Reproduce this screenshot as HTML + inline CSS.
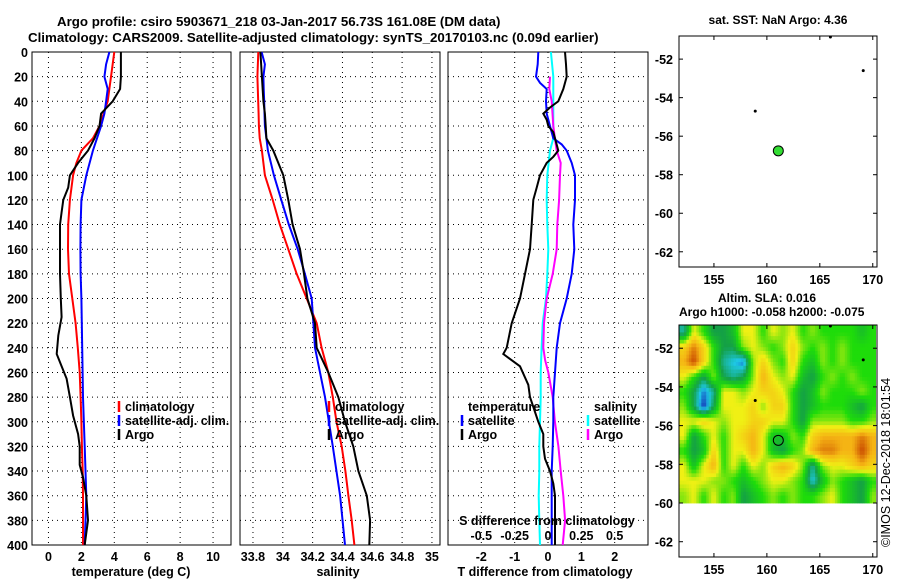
<!DOCTYPE html>
<html><head><meta charset="utf-8"><style>
html,body{margin:0;padding:0;background:#fff;}
svg{display:block;font-family:"Liberation Sans",sans-serif;font-weight:bold;}
</style></head><body>
<svg id="s" width="900" height="580" viewBox="0 0 900 580" xmlns="http://www.w3.org/2000/svg">
<defs>
<clipPath id="hmclip"><rect x="679" y="325" width="197" height="179"/></clipPath>
</defs>
<text x="57" y="26" font-size="13.3">Argo profile: csiro 5903671_218 03-Jan-2017 56.73S 161.08E (DM data)</text>
<text x="28" y="42" font-size="13.3">Climatology: CARS2009. Satellite-adjusted climatology: synTS_20170103.nc (0.09d earlier)</text>
<text x="778" y="24" font-size="12" text-anchor="middle">sat. SST: NaN Argo: 4.36</text>
<text x="767" y="302" font-size="12" text-anchor="middle">Altim. SLA: 0.016</text>
<text x="679" y="316" font-size="12">Argo h1000: -0.058 h2000: -0.075</text>
<text transform="translate(890,547) rotate(-90)" font-size="12.5" font-weight="normal">©IMOS 12-Dec-2018 18:01:54</text>
<g id="plots"></g>
</svg>
<script>
// ---- data ----
const tDepth = [0,10,20,30,40,50,60,70,80,90,100,110,120,130,140,160,180,200,215,230,245,255,265,280,295,310,320,335,345,360,380,400];
const tArgo  = [4.4,4.4,4.4,4.35,3.9,3.2,3.1,2.8,2.4,1.8,1.3,1.2,0.9,0.8,0.7,0.7,0.7,0.75,0.8,0.6,0.5,0.8,1.1,1.3,1.5,1.8,1.9,1.9,2.1,2.3,2.4,2.2];
const cDepth = [0,20,40,60,70,80,90,100,120,140,160,180,200,220,240,260,280,300,320,340,360,380,400];
const tClim  = [4.0,3.8,3.6,3.1,2.7,2.0,1.7,1.5,1.3,1.2,1.19,1.25,1.45,1.65,1.78,1.9,1.95,2.0,2.03,2.08,2.1,2.1,2.1];
const sDepth = [0,10,20,30,40,50,60,80,100,120,140,160,180,200,240,280,320,360,400];
const tSat   = [3.7,3.5,3.4,3.6,3.5,3.4,3.2,2.7,2.3,2.0,1.95,1.94,1.95,2.0,2.05,2.1,2.2,2.3,2.2];
const pDepth = [0,20,40,50,60,70,80,100,120,140,160,180,200,220,240,260,280,300,320,340,360,380,400];
const salArgo = [33.85,33.86,33.87,33.88,33.885,33.89,33.936,34.003,34.037,34.066,34.115,34.142,34.165,34.216,34.227,34.305,34.372,34.417,34.473,34.507,34.563,34.585,34.58];
const salClim = [33.836,33.83,33.835,33.838,33.84,33.845,33.86,33.88,33.932,33.98,34.037,34.093,34.16,34.227,34.26,34.305,34.335,34.36,34.395,34.42,34.44,34.462,34.48];
const salSat  = [33.858,33.88,33.87,33.872,33.875,33.877,33.88,33.9,33.94,33.99,34.04,34.1,34.148,34.194,34.216,34.283,34.335,34.384,34.417];
const dtDepth = [0,10,20,25,30,40,50,60,70,75,80,90,100,120,140,160,180,200,220,240,260,280,300,320,340,360,400];
const dtSat   = [-0.29,-0.31,-0.36,-0.24,-0.04,-0.06,-0.04,0.06,0.16,0.41,0.56,0.71,0.81,0.81,0.76,0.79,0.71,0.56,0.36,0.26,0.21,0.16,0.16,0.14,0.11,0.11,0.11];
const daDepth = [0,10,20,30,40,45,50,55,60,65,70,80,85,90,100,110,120,140,160,180,200,220,240,245,255,270,280,300,310,320,330,340,350,360,380,400];
const dtArgo  = [0.51,0.54,0.56,0.46,0.31,0.06,-0.14,-0.04,0.01,0.16,0.21,0.31,0.16,-0.04,-0.24,-0.34,-0.44,-0.49,-0.54,-0.69,-0.84,-1.09,-1.24,-1.34,-0.84,-0.59,-0.54,-0.29,-0.14,-0.14,-0.09,0.06,0.16,0.21,0.21,0.21];
const dsDepth = [0,20,40,60,70,80,100,120,140,160,180,200,220,240,260,280,300,320,340,360,380,400];
const dsSat   = [0.022,0.04,0.04,0.04,0.04,0.015,-0.005,-0.01,-0.005,0.002,-0.005,-0.015,-0.04,-0.048,-0.055,-0.055,-0.06,-0.065,-0.065,-0.07,-0.065,-0.06];
const dmDepth = [20,30,40,60,70,80,90,100,120,140,160,180,200,220,240,250,260,280,300,320,340,360,380,400];
const dsArgo  = [0.015,0.01,0.028,0.04,0.052,0.065,0.095,0.09,0.083,0.07,0.065,0.035,-0.01,-0.03,-0.035,-0.022,0.002,0.035,0.052,0.078,0.095,0.115,0.128,0.11];
const depthTicks = [0,20,40,60,80,100,120,140,160,180,200,220,240,260,280,300,320,340,360,380,400];
const tempTicks = [0,2,4,6,8,10];
const salTicks = [33.8,34,34.2,34.4,34.6,34.8,35];
const salTickLabels = ["33.8","34","34.2","34.4","34.6","34.8","35"];
const dTTicks = [-2,-1,0,1,2];
const dSTicks = [-0.5,-0.25,0,0.25,0.5];
const dSTickLabels = ["-0.5","-0.25","0","0.25","0.5"];
const lonTicks = [155,160,165,170];
const latTicks = [-52,-54,-56,-58,-60,-62];
const floatLon = [166,169.1,158.9];
const floatLat = [-50.8,-52.6,-54.7];
const argoLon = 161.08, argoLat = -56.76;
const hmLon0 = 151.7, hmLat0 = -50.8, hmLat1 = -60, hmCols = 20, hmRows = 12;
const slaGrid = [
[-1.5,1,0,-1,-1,-0.5,1,1,0,1,0.5,1,0,0.5,0,0,0,0,-0.5,0],
[1.5,2.5,1.5,0,-1,-1,0.5,1,0.5,0,0.5,1.5,0.5,0,0.5,0,0.5,0,0,0],
[2,3,1.5,0,-1.5,-2,-2.5,0.5,1.5,0.5,0,1.5,0,-0.5,0.5,0,0.5,0,0,0],
[1,0,-1,0.5,-1,-1.5,-1,0.5,2,1,0.5,1,-0.5,-1,0,0.5,0,0.5,0,0],
[0,-1,-2.5,-1.5,1,1,0.5,1,1.5,1.5,1,0,-1,-0.5,0.5,0,0,0,0.5,0],
[0.5,-1,-3,-1,1,1,1,1.5,0.5,1.5,1.5,0,-1,-0.5,0,0,0,-0.5,-1,0],
[1,1,1.5,1,0.5,1,1,1.5,1.5,1,1,0,-1,0.5,0.5,0.5,0.5,0,0,0.5],
[1,-1,0,1,0,1,1.5,2,1,-0.5,-0.5,0.5,0,1.5,2,2,2,2,2.5,2],
[0,-1,-0.5,1.5,0,1,1,2,1,-0.5,-1,0,0.5,2,2.5,2.5,2,2,3,2],
[1,-0.5,1,2,0,1,0,1,0.5,1.5,2,1.5,0.5,-1.5,0.5,1,1,1.5,2,1.5],
[1,1,1,0.5,0.5,0,-0.5,0,0.5,1,1,0.5,0,-2,-0.5,0.5,0,-0.5,-1,0],
[0.5,1,0,1,0,0.5,-1,-0.5,0,0.5,0,0.5,0,0,0.5,1,0,-0.5,-1,0.5]];

// ---- drawing ----
const NS="http://www.w3.org/2000/svg";
const root=document.getElementById('plots');
function el(tag,attrs,parent){const e=document.createElementNS(NS,tag);for(const k in attrs)e.setAttribute(k,attrs[k]);(parent||root).appendChild(e);return e;}
function txt(x,y,s,size,anchor,parent){const t=el('text',{x:x,y:y,'font-size':size,'text-anchor':anchor||'start'},parent);t.textContent=s;return t;}
const Y0=52,Y1=545;
function yD(d){return Y0+(d/400)*(Y1-Y0);}
function lin(d0,d1,r0,r1){return v=>r0+(v-d0)/(d1-d0)*(r1-r0);}
function panel(name,x0,x1,xs,ticks,labels){
  const g=el('g',{});
  
  
  for(const d of depthTicks){const y=yD(d);
    const l=el('line',{x1:x0,x2:x1,y1:y,y2:y,stroke:'#000','stroke-width':1,'stroke-dasharray':'1,4'},g);
    }
  ticks.forEach((v,i)=>{const x=xs(v);
    const l=el('line',{x1:x,x2:x,y1:Y0,y2:Y1,stroke:'#000','stroke-width':1,'stroke-dasharray':'1,4'},g);
    
    if(labels){const t=txt(x,561,labels[i],12.5,'middle',g);
    }});
  const r=el('rect',{x:x0,y:Y0,width:x1-x0,height:Y1-Y0,fill:'none',stroke:'#000','stroke-width':1},g);
  
  return g;
}
function line(g,xs,depths,vals,color,name){
  const pts=depths.map((d,i)=>xs(vals[i]).toFixed(1)+','+yD(d).toFixed(1)).join(' ');
  const p=el('polyline',{points:pts,fill:'none',stroke:color,'stroke-width':2},g);
  
}
function legend(g,x,y,color,label,withMark){
  if(withMark){const m=el('line',{x1:x,x2:x,y1:y-10,y2:y+1,stroke:color,'stroke-width':2.5},g);
    }
  const t=txt(x+6,y,label,12.5,'start',g);
  
}
// panel 1
const xT=lin(-1,11.09,32,231);
const g1=panel('temperature-panel',32,231,xT,tempTicks,tempTicks.map(String));
depthTicks.forEach(d=>{const t=txt(28,yD(d)+5,String(d),12.5,'end',g1);
  });
line(g1,xT,cDepth,tClim,'#f00','temp-climatology-line');
line(g1,xT,sDepth,tSat,'#00f','temp-satellite-line');
line(g1,xT,tDepth,tArgo,'#000','temp-argo-line');
legend(g1,119,411,'#f00','climatology',true);
legend(g1,119,425,'#00f','satellite-adj. clim.',true);
legend(g1,119,439,'#000','Argo',true);
let at=txt(131,576,'temperature (deg C)',12.5,'middle',g1);

// panel 2
const xS=lin(33.713,35.054,240,440);
const g2=panel('salinity-panel',240,440,xS,salTicks,salTickLabels);
line(g2,xS,pDepth,salClim,'#f00','sal-climatology-line');
line(g2,xS,sDepth,salSat,'#00f','sal-satellite-line');
line(g2,xS,pDepth,salArgo,'#000','sal-argo-line');
legend(g2,329,411,'#f00','climatology',true);
legend(g2,329,425,'#00f','satellite-adj. clim.',true);
legend(g2,329,439,'#000','Argo',true);
at=txt(338,576,'salinity',12.5,'middle',g2);

// panel 3
const xDT=lin(-3,3,448,648);
const xDS=lin(-0.75,0.75,448,648);
const g3=panel('difference-panel',448,648,xDT,dTTicks,dTTicks.map(String));
line(g3,xDS,dsDepth,dsSat,'#0ff','sal-diff-satellite-line');
line(g3,xDS,dmDepth,dsArgo,'#f0f','sal-diff-argo-line');
line(g3,xDT,dtDepth,dtSat,'#00f','temp-diff-satellite-line');
line(g3,xDT,daDepth,dtArgo,'#000','temp-diff-argo-line');
legend(g3,462,411,'#000','temperature',false);
legend(g3,462,425,'#00f','satellite',true);
legend(g3,462,439,'#000','Argo',true);
legend(g3,588,411,'#000','salinity',false);
legend(g3,588,425,'#0ff','satellite',true);
legend(g3,588,439,'#f0f','Argo',true);
at=txt(547,525,'S difference from climatology',12.5,'middle',g3);

dSTicks.forEach((v,i)=>{const t=txt(xDS(v),540,dSTickLabels[i],12.5,'middle',g3);
  });
at=txt(545,576,'T difference from climatology',12.5,'middle',g3);


// maps
const stops=[[-3,[20,40,180]],[-2,[30,200,230]],[-1,[20,160,70]],[0,[30,220,10]],[1,[240,240,20]],[2,[245,180,20]],[3,[200,70,0]]];
function cmap(v){v=Math.max(-3,Math.min(3,v));for(let i=0;i<stops.length-1;i++){const a=stops[i],b=stops[i+1];
  if(v<=b[0]){const f=(v-a[0])/(b[0]-a[0]);return 'rgb('+a[1].map((c,k)=>Math.round(c+(b[1][k]-c)*f)).join(',')+')';}}return 'rgb(200,70,0)';}
function sample(r,c){ // bilinear interpolation between grid cell centres
  r=Math.max(0,Math.min(hmRows-1,r));c=Math.max(0,Math.min(hmCols-1,c));
  const r0=Math.floor(r),c0=Math.floor(c),r1=Math.min(hmRows-1,r0+1),c1=Math.min(hmCols-1,c0+1),fr=r-r0,fc=c-c0;
  return slaGrid[r0][c0]*(1-fr)*(1-fc)+slaGrid[r0][c1]*(1-fr)*fc+slaGrid[r1][c0]*fr*(1-fc)+slaGrid[r1][c1]*fr*fc;}
function map(name,x0,x1,y0,y1,lat0,lat1,heat,filled){
  const g=el('g',{});
  
  const xl=lin(151.7,170.4,x0,x1), yl=lin(lat0,lat1,y0,y1);
  if(heat){const hb=el('g',{'clip-path':'url(#hmclip)'},g);
    const cw=(xl(170.4)-xl(hmLon0))/hmCols, rh=(yl(hmLat1)-yl(hmLat0))/hmRows, sub=4;
    for(let r=0;r<hmRows*sub;r++)for(let c=0;c<hmCols*sub;c++){
      const v=sample((r+0.5)/sub-0.5,(c+0.5)/sub-0.5);
      const cell=el('rect',{x:(xl(hmLon0)+c*cw/sub).toFixed(2),y:(yl(hmLat0)+r*rh/sub).toFixed(2),width:(cw/sub+0.4).toFixed(2),height:(rh/sub+0.4).toFixed(2),fill:cmap(v)},hb);
      
      }}
  const fr=el('rect',{x:x0,y:y0,width:x1-x0,height:y1-y0,fill:'none',stroke:'#000','stroke-width':1},g);
  
  lonTicks.forEach(v=>{const x=xl(v);
    el('line',{x1:x,x2:x,y1:y1,y2:y1-4,stroke:'#000'},g);el('line',{x1:x,x2:x,y1:y0,y2:y0+4,stroke:'#000'},g);
    const t=txt(x,y1+17,String(v),12.5,'middle',g);});
  latTicks.forEach(v=>{const y=yl(v);
    el('line',{x1:x0,x2:x0+4,y1:y,y2:y,stroke:'#000'},g);el('line',{x1:x1,x2:x1-4,y1:y,y2:y,stroke:'#000'},g);
    const t=txt(x0-6,y+5,String(v),12.5,'end',g);});
  floatLon.forEach((lo,i)=>{const d=el('circle',{cx:xl(lo),cy:Math.max(y0+1,yl(floatLat[i])),r:1.5,fill:'#000'},g);
    });
  const c=el('circle',{cx:xl(argoLon),cy:yl(argoLat),r:5,fill:filled?'#3d3':'none',stroke:'#000','stroke-width':1},g);
  
}
map('sst-map',679,877,36,267,-50.8,-62.79,false,true);
map('sla-map',679,877,325,557,-50.8,-62.79,true,false);
</script>
</body></html>
